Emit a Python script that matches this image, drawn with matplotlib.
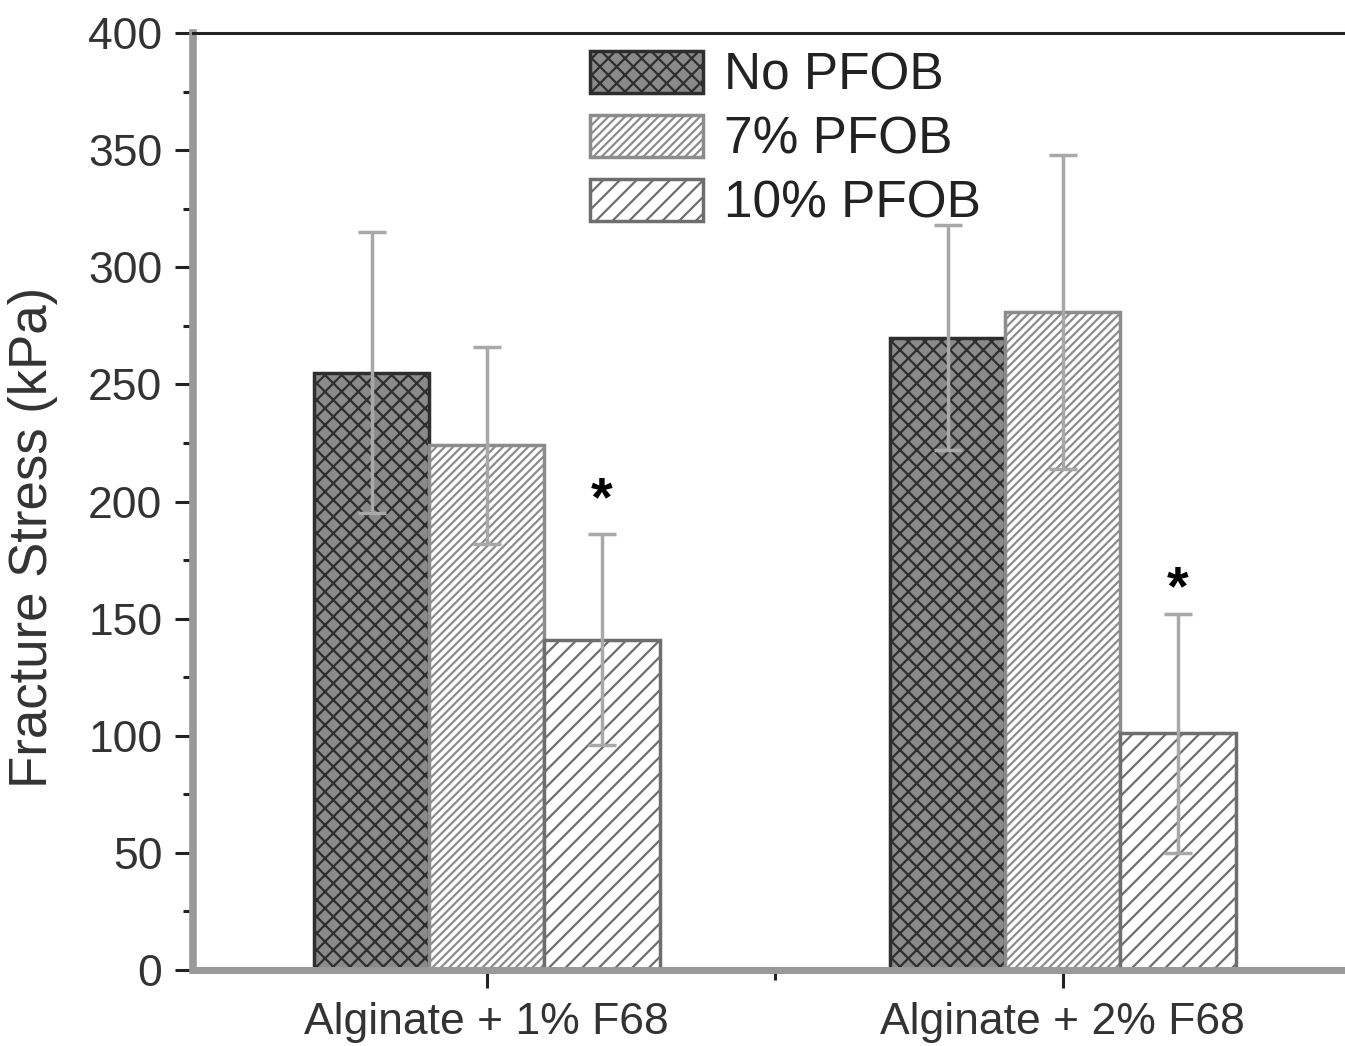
import numpy as np
import matplotlib
matplotlib.use("Agg")
import matplotlib.pyplot as plt
from matplotlib.ticker import MultipleLocator, FixedLocator

plt.rcParams['font.family'] = ['Liberation Sans', 'DejaVu Sans']
plt.rcParams['hatch.linewidth'] = 1.6

# data
groups = ["Alginate + 1% F68", "Alginate + 2% F68"]
series = ["No PFOB", "7% PFOB", "10% PFOB"]
means = {
    "No PFOB": [255, 270],
    "7% PFOB": [224, 281],
    "10% PFOB": [141, 101],
}
errors = {
    "No PFOB": [60, 48],
    "7% PFOB": [42, 67],
    "10% PFOB": [45, 51],
}
star_y = [200, 162]   # where the significance stars sit

faces = ["#8a8a8a", "white", "white"]
edges = ["#2e2e2e", "#8c8c8c", "#6e6e6e"]
hatches = ["xx", "////", "//"]

fig = plt.figure(figsize=(13.45, 10.46), dpi=100)
ax = fig.add_axes([0.1435, 0.0727, 0.8565, 0.8957])

x = np.arange(1, len(groups) + 1)
w = 0.2
for i, s in enumerate(series):
    pos = x + (i - 1) * w
    ax.bar(pos, means[s], w, facecolor=faces[i], edgecolor=edges[i],
           hatch=hatches[i], linewidth=2.5, label=s, zorder=2)
    ax.errorbar(pos, means[s], yerr=errors[s], fmt='none', ecolor='#a8a8a8',
                elinewidth=2.5, capsize=10, capthick=2.5, zorder=3)

for gx, sy in zip(x, star_y):
    ax.text(gx + w, sy, "*", ha='center', va='center', fontsize=40,
            color='black', fontweight='bold')

ax.set_xlim(0.49, 2.49)
ax.set_ylim(0, 400)
ax.set_xticks(x)
ax.set_xticklabels(groups)
ax.xaxis.set_minor_locator(FixedLocator([1.5]))
ax.yaxis.set_major_locator(MultipleLocator(50))
ax.yaxis.set_minor_locator(MultipleLocator(25))

ax.tick_params(axis='both', which='major', direction='out', length=13,
               width=2.2, color='#222222', labelsize=32, labelcolor='#333333')
ax.tick_params(axis='y', which='major', pad=9)
ax.tick_params(axis='x', which='major', pad=10)
ax.tick_params(axis='both', which='minor', direction='out', length=7,
               width=2.2, color='#222222')

ax.set_ylabel("Fracture Stress (kPa)", fontsize=38, color='#333333')
ax.yaxis.set_label_coords(-0.117, 0.462)

ax.spines['left'].set_color('#999999')
ax.spines['left'].set_linewidth(5.5)
ax.spines['bottom'].set_color('#999999')
ax.spines['bottom'].set_linewidth(5)
ax.spines['top'].set_color('#222222')
ax.spines['top'].set_linewidth(2.2)
ax.spines['right'].set_visible(False)

leg = ax.legend(loc='upper left', bbox_to_anchor=(0.318, 1.014), frameon=False,
                fontsize=37, handlelength=2.2, handleheight=0.9,
                labelspacing=0.27, handletextpad=0.4, borderaxespad=0.2)
for t in leg.get_texts():
    t.set_color('#222222')

fig.savefig("out.png", dpi=100)
